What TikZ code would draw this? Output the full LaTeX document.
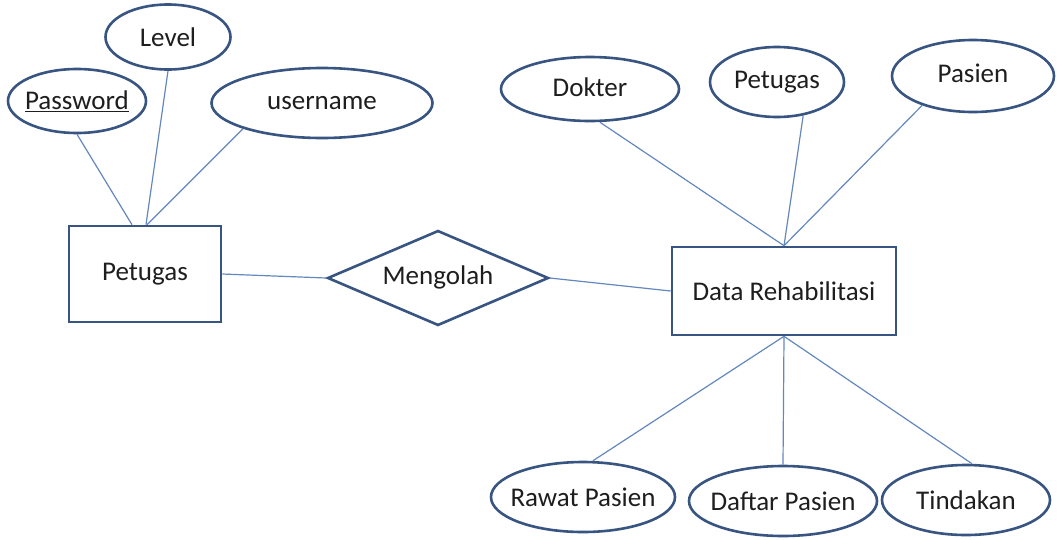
\documentclass[tikz,border=0pt]{standalone}
\usepackage{fontspec}
\setmainfont{Carlito}
\usetikzlibrary{shapes.geometric}
\definecolor{shapeblue}{RGB}{56,84,128}
\definecolor{lineblue}{RGB}{100,135,190}
\definecolor{txt}{RGB}{30,30,30}
\begin{document}
\begin{tikzpicture}[x=1pt,y=-1pt,
  base/.style={draw=shapeblue,line width=2.6pt,inner sep=0pt,fill=white,text=txt,font=\fontsize{27}{32}\selectfont},
  attr/.style={base,ellipse,inner xsep=-20pt,inner ysep=-4pt},
  ent/.style={base,rectangle},
  rel/.style={base,diamond,aspect=2.4},
  conn/.style={draw=lineblue,line width=1.2pt}]
\fill[white] (0,0) rectangle (1060,539);
\useasboundingbox (0,0) rectangle (1060,539);

% left entity and its attributes
\node[ent,minimum width=152pt,minimum height=96pt] (pet) at (145,274) {Petugas};
\node[attr,minimum width=125pt,minimum height=65pt] (lv) at (168,37) {Level};
\node[attr,minimum width=138pt,minimum height=64pt] (pw) at (77,101) {\underline{Password}};
\node[attr,minimum width=221pt,minimum height=70pt] (un) at (322,103) {username};

% relationship
\node[rel,minimum width=221pt,minimum height=95pt] (mg) at (438,278) {\raisebox{5pt}{Mengolah}};

% right entity and its attributes
\node[ent,minimum width=224pt,minimum height=88pt] (dr) at (784,291) {Data Rehabilitasi};
\node[attr,minimum width=178pt,minimum height=64pt] (dk) at (590,89) {\raisebox{3pt}{Dokter}};
\node[attr,minimum width=134pt,minimum height=70pt] (pt) at (777,82) {\raisebox{2pt}{Petugas}};
\node[attr,minimum width=162pt,minimum height=72pt] (ps) at (973,76) {\raisebox{5pt}{Pasien}};
\node[attr,minimum width=184pt,minimum height=70pt] (rw) at (583,497) {Rawat Pasien};
\node[attr,minimum width=188pt,minimum height=70pt] (df) at (783,501) {Daftar Pasien};
\node[attr,minimum width=168pt,minimum height=70pt] (td) at (966,500) {Tindakan};

% connectors
\draw[conn] (pw.south) -- ([xshift=-13pt]pet.north);
\draw[conn] (lv.south) -- ([xshift=1pt]pet.north);
\draw[conn] (un.198) -- ([xshift=2pt]pet.north);
\draw[conn] (pet.east) -- (mg.west);
\draw[conn] (mg.east) -- (dr.west);
\draw[conn] ([xshift=10pt]dk.south) -- (dr.north);
\draw[conn] (pt.-52) -- (dr.north);
\draw[conn] (ps.210) -- (dr.north);
\draw[conn] (dr.south) -- ([xshift=10pt]rw.north);
\draw[conn] (dr.south) -- (df.north);
\draw[conn] (dr.south) -- ([xshift=6pt]td.north);
\end{tikzpicture}
\end{document}
